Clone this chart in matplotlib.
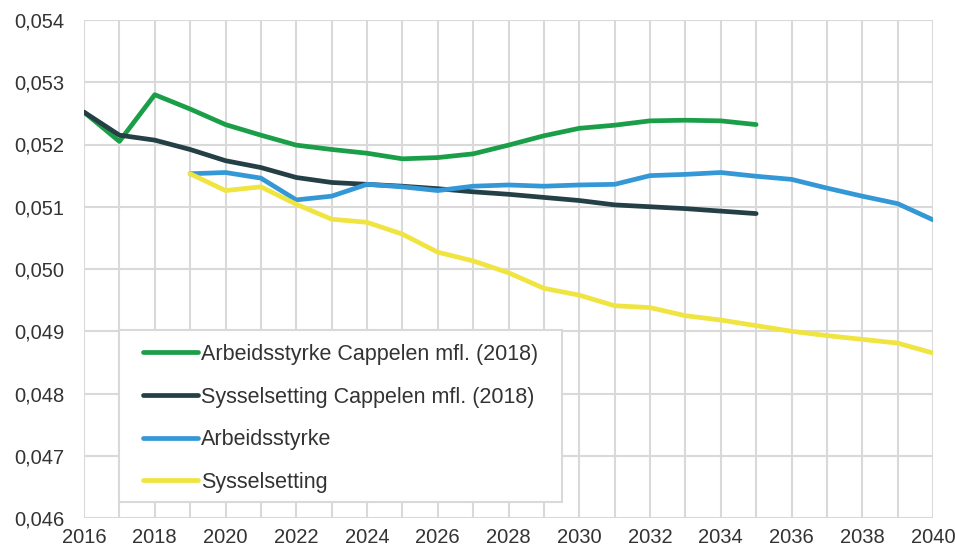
import matplotlib
matplotlib.use("Agg")
import matplotlib.pyplot as plt
from matplotlib.ticker import FixedLocator, FuncFormatter
from matplotlib.patches import Rectangle

plt.rcParams['font.family'] = ['Liberation Sans', 'DejaVu Sans']

years_a = list(range(2016, 2036))
arb_cappelen = [0.05252, 0.05205, 0.05280, 0.05257, 0.05232, 0.05215, 0.05199, 0.05192, 0.05186,
                0.05177, 0.05179, 0.05185, 0.05199, 0.05214, 0.05226, 0.05231, 0.05238, 0.05239,
                0.05238, 0.05232]
sys_cappelen = [0.05252, 0.05215, 0.05207, 0.05192, 0.05174, 0.05163, 0.05147, 0.05139, 0.05136,
                0.05133, 0.05129, 0.05124, 0.05120, 0.05115, 0.05110, 0.05103, 0.05100, 0.05097,
                0.05093, 0.05089]
years_b = list(range(2019, 2041))
arbeidsstyrke = [0.05153, 0.05155, 0.05146, 0.05111, 0.05117, 0.05136, 0.05132, 0.05126, 0.05133,
                 0.05135, 0.05133, 0.05135, 0.05136, 0.05150, 0.05152, 0.05155, 0.05149, 0.05144,
                 0.05130, 0.05117, 0.05105, 0.05079]
sysselsetting = [0.05153, 0.05126, 0.05132, 0.05104, 0.05080, 0.05075, 0.05056, 0.05027, 0.05013,
                 0.04994, 0.04969, 0.04958, 0.04941, 0.04938, 0.04925, 0.04918, 0.04909, 0.04900,
                 0.04893, 0.04887, 0.04881, 0.04865]
labels = ['Arbeidsstyrke Cappelen mfl. (2018)', 'Sysselsetting Cappelen mfl. (2018)',
          'Arbeidsstyrke', 'Sysselsetting']
colors = ['#1a9e48', '#243f45', '#3498d6', '#f0e440']

W, H = 955, 545
L, R, T, B = 84, 933, 20, 518
fig = plt.figure(figsize=(W/100, H/100), dpi=100)
ax = fig.add_axes([L/W, 1-B/H, (R-L)/W, (B-T)/H])

def ax_x(px):
    return (px - L) / (R - L)

def ax_y(py):
    return (B - py) / (B - T)

lw = 3.4
ax.plot(years_a, arb_cappelen, color=colors[0], lw=lw, label=labels[0], solid_capstyle='round', zorder=3)
ax.plot(years_a, sys_cappelen, color=colors[1], lw=lw, label=labels[1], solid_capstyle='round', zorder=3)
ax.plot(years_b, arbeidsstyrke, color=colors[2], lw=lw, label=labels[2], solid_capstyle='round', zorder=3)
ax.plot(years_b, sysselsetting, color=colors[3], lw=lw, label=labels[3], solid_capstyle='round', zorder=3)

ax.set_xlim(2016, 2040)
ax.set_ylim(0.046, 0.054)
ax.xaxis.set_major_locator(FixedLocator(list(range(2016, 2041, 2))))
ax.xaxis.set_minor_locator(FixedLocator(list(range(2017, 2040, 2))))
ax.yaxis.set_major_locator(FixedLocator([0.046 + 0.001 * i for i in range(9)]))
ax.yaxis.set_major_formatter(FuncFormatter(lambda v, p: f"{v:.3f}".replace('.', ',')))
ax.grid(True, which='both', color='#d9d9d9', lw=1.5)
ax.set_axisbelow(True)
for s in ax.spines.values():
    s.set_visible(False)
ax.tick_params(which='both', length=0, labelsize=14.5, labelcolor='#333333')
ax.tick_params(axis='x', pad=7)
ax.tick_params(axis='y', pad=14)

# legend box
rect = Rectangle((ax_x(119), ax_y(502)), ax_x(562) - ax_x(119), ax_y(330) - ax_y(502),
                 transform=ax.transAxes, facecolor='white', edgecolor='#d9d9d9', lw=1.5,
                 zorder=4, clip_on=False)
ax.add_patch(rect)

leg = ax.legend(loc='upper left', bbox_to_anchor=(ax_x(143), ax_y(344)),
                frameon=False, fontsize=15.5, handlelength=2.56, labelspacing=1.0,
                borderpad=0, borderaxespad=0, handletextpad=0.15)
leg.set_zorder(5)
for t in leg.get_texts():
    t.set_color('#333333')

fig.savefig('out.png', dpi=100)
